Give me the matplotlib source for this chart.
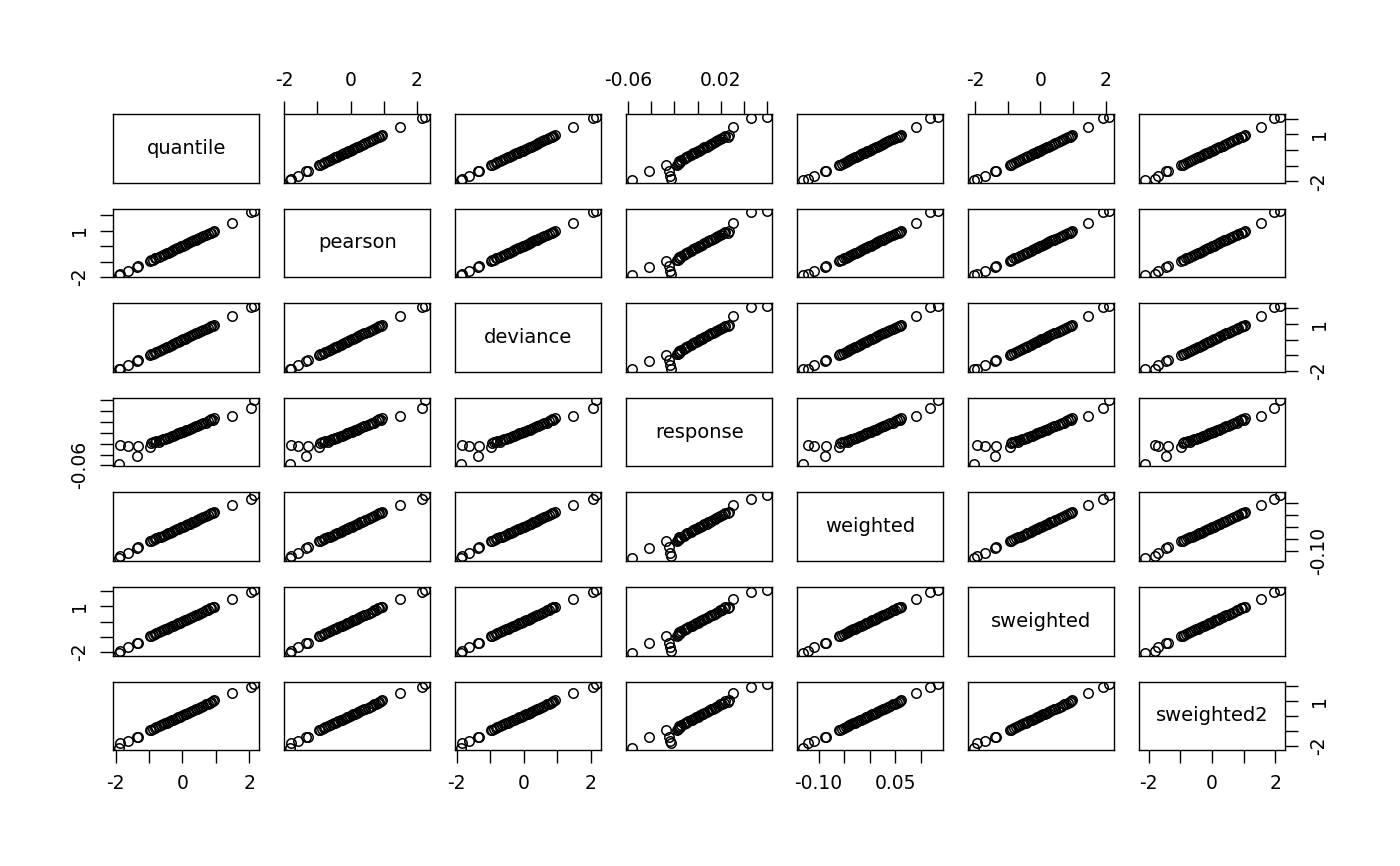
import numpy as np
import matplotlib
matplotlib.use("Agg")
import matplotlib.pyplot as plt

# residuos (45 observaciones)
quantile = [-1.91, -1.87, -1.64, -1.36, -1.33,
            -0.97, -0.93, -0.88, -0.82, -0.78,
            -0.70, -0.65, -0.58, -0.52, -0.47,
            -0.43, -0.38, -0.31, -0.27, -0.22,
            -0.16, -0.13, -0.08, -0.03, 0.02,
            0.07, 0.12, 0.18, 0.22, 0.29,
            0.35, 0.40, 0.44, 0.51, 0.57,
            0.63, 0.70, 0.76, 0.82, 0.86,
            0.90, 0.93, 1.47, 2.06, 2.14]
pearson = [-1.84, -1.80, -1.60, -1.35, -1.30,
           -0.96, -0.91, -0.87, -0.80, -0.77,
           -0.69, -0.63, -0.57, -0.51, -0.46,
           -0.42, -0.37, -0.30, -0.26, -0.21,
           -0.15, -0.12, -0.07, -0.02, 0.03,
           0.08, 0.13, 0.19, 0.23, 0.30,
           0.36, 0.41, 0.45, 0.52, 0.58,
           0.64, 0.71, 0.77, 0.83, 0.87,
           0.91, 0.95, 1.50, 2.17, 2.25]
deviance = [-1.88, -1.85, -1.63, -1.36, -1.32,
            -0.98, -0.94, -0.89, -0.83, -0.79,
            -0.71, -0.66, -0.59, -0.53, -0.48,
            -0.44, -0.39, -0.32, -0.28, -0.22,
            -0.16, -0.13, -0.08, -0.03, 0.02,
            0.07, 0.12, 0.18, 0.22, 0.29,
            0.35, 0.40, 0.44, 0.50, 0.56,
            0.62, 0.69, 0.75, 0.81, 0.85,
            0.89, 0.93, 1.48, 2.08, 2.16]
response = [-0.057, -0.023, -0.024, -0.042, -0.025,
            -0.027, -0.018, -0.017, -0.016, -0.015,
            -0.016, -0.014, -0.012, -0.011, -0.010,
            -0.009, -0.008, -0.006, -0.005, -0.004,
            -0.002, -0.001, 0.000, 0.001, 0.002,
            0.004, 0.005, 0.006, 0.008, 0.009,
            0.011, 0.012, 0.013, 0.015, 0.016,
            0.018, 0.019, 0.021, 0.023, 0.026,
            0.024, 0.027, 0.031, 0.046, 0.060]
weighted = [-0.131, -0.121, -0.108, -0.087, -0.085,
            -0.060, -0.057, -0.054, -0.050, -0.047,
            -0.043, -0.040, -0.036, -0.032, -0.029,
            -0.026, -0.023, -0.019, -0.016, -0.013,
            -0.009, -0.007, -0.004, -0.001, 0.002,
            0.005, 0.008, 0.012, 0.014, 0.019,
            0.023, 0.026, 0.029, 0.033, 0.037,
            0.041, 0.046, 0.050, 0.054, 0.057,
            0.059, 0.062, 0.091, 0.119, 0.134]
sweighted = [-2.05, -1.95, -1.69, -1.40, -1.37,
             -0.95, -0.91, -0.86, -0.80, -0.76,
             -0.68, -0.63, -0.57, -0.51, -0.46,
             -0.42, -0.37, -0.30, -0.26, -0.21,
             -0.15, -0.12, -0.07, -0.02, 0.03,
             0.08, 0.13, 0.19, 0.23, 0.30,
             0.36, 0.42, 0.46, 0.53, 0.59,
             0.65, 0.73, 0.79, 0.86, 0.90,
             0.94, 0.98, 1.47, 1.93, 2.10]
sweighted2 = [-2.13, -1.81, -1.71, -1.45, -1.40,
              -0.97, -0.93, -0.88, -0.82, -0.77,
              -0.69, -0.64, -0.57, -0.51, -0.46,
              -0.41, -0.36, -0.29, -0.25, -0.19,
              -0.13, -0.10, -0.05, 0.00, 0.05,
              0.10, 0.15, 0.21, 0.26, 0.33,
              0.39, 0.45, 0.49, 0.56, 0.63,
              0.69, 0.77, 0.83, 0.90, 0.95,
              1.00, 1.05, 1.54, 1.95, 2.14]

names = ["quantile", "pearson", "deviance", "response", "weighted", "sweighted", "sweighted2"]
data = [quantile, pearson, deviance, response, weighted, sweighted, sweighted2]

# marcas y etiquetas visibles de cada eje (R oculta las que se solapan)
ticks_std = [-2, -1, 0, 1, 2]
ticks = {
    "quantile": ticks_std, "pearson": ticks_std, "deviance": ticks_std,
    "sweighted": ticks_std, "sweighted2": ticks_std,
    "response": [-0.06, -0.04, -0.02, 0.0, 0.02, 0.04, 0.06],
    "weighted": [-0.10, -0.05, 0.0, 0.05, 0.10],
}
xlabs = {
    "std": ["-2", "", "0", "", "2"],
    "response": ["-0.06", "", "", "", "0.02", "", ""],
    "weighted": ["-0.10", "", "", "0.05", ""],
}
ylabs = {
    "std": ["-2", "", "", "1", ""],
    "response": ["-0.06", "", "", "", "", "", ""],
    "weighted": ["-0.10", "", "", "", ""],
}

def lims(v):
    lo, hi = min(v), max(v)
    r = hi - lo
    return lo - 0.04 * r, hi + 0.04 * r

def labs(tab, name):
    return tab.get(name, tab["std"])

W, H = 1400, 866
fig = plt.figure(figsize=(W / 100, H / 100), dpi=100)

n = len(names)
pw, ph = 146, 68.5
for i in range(n):
    for j in range(n):
        left = 113.3 + j * 171
        top = 114 + i * 94.6
        ax = fig.add_axes([left / W, 1 - (top + ph) / H, pw / W, ph / H])
        for s in ax.spines.values():
            s.set_linewidth(1.0)
        ax.set_xlim(lims(data[j]))
        ax.set_ylim(lims(data[i]))
        ax.tick_params(which="both", bottom=False, top=False, left=False, right=False,
                       labelbottom=False, labeltop=False, labelleft=False, labelright=False,
                       length=9.5, width=1.0, labelsize=13.5, pad=8)
        ax.set_xticks(ticks[names[j]])
        ax.set_xticklabels(labs(xlabs, names[j]))
        ax.set_yticks(ticks[names[i]])
        ax.set_yticklabels(labs(ylabs, names[i]), rotation=90, va="center")
        if i == j:
            ax.text(0.5, 0.5, names[i], transform=ax.transAxes,
                    ha="center", va="center", fontsize=14)
        else:
            ax.plot(data[j], data[i], "o", mfc="none", mec="k", ms=6.8, mew=1.1)
        if i == 0 and j % 2 == 1:
            ax.tick_params(top=True, labeltop=True)
        if i == n - 1 and j % 2 == 0:
            ax.tick_params(bottom=True, labelbottom=True)
        if j == 0 and i % 2 == 1:
            ax.tick_params(left=True, labelleft=True)
        if j == n - 1 and i % 2 == 0:
            ax.tick_params(right=True, labelright=True)

fig.savefig("out.png", dpi=100)
